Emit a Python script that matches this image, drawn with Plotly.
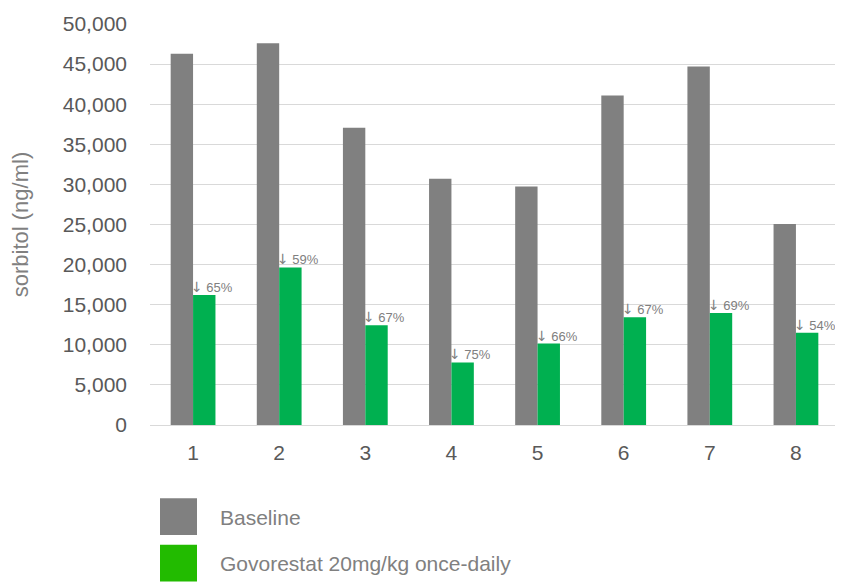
import plotly.graph_objects as go

categories = ["1", "2", "3", "4", "5", "6", "7", "8"]
baseline = [46300, 47600, 37050, 30700, 29750, 41100, 44700, 25050]
govorestat = [16200, 19650, 12450, 7800, 10150, 13450, 13950, 11500]
reduction_labels = ["↓ 65%", "↓ 59%", "↓ 67%", "↓ 75%", "↓ 66%", "↓ 67%", "↓ 69%", "↓ 54%"]
series_names = ["Baseline", "Govorestat 20mg/kg once-daily"]
legend_colors = ["#808080", "#22BB00"]
y_ticks = [0, 5000, 10000, 15000, 20000, 25000, 30000, 35000, 40000, 45000, 50000]

FONT = "Arial, Liberation Sans, sans-serif"
OFF = 8  # default page body margin
W, H = 843 - OFF, 582 - OFF
ML, MR, MT, MB = 150 - OFF, 4, 20 - OFF, 157
PW, PH = W - ML - MR, H - MT - MB

fig = go.Figure()
fig.add_trace(go.Bar(x=categories, y=baseline, name=series_names[0],
                     marker=dict(color="#808080", line=dict(width=0)), showlegend=False))
fig.add_trace(go.Bar(x=categories, y=govorestat, name=series_names[1],
                     marker=dict(color="#00B050", line=dict(width=0)), showlegend=False))

for i, (v, t) in enumerate(zip(govorestat, reduction_labels)):
    styled = t.replace("↓", "<span style='font-family:DejaVu Sans;font-size:14px'>↓</span>")
    fig.add_annotation(x=i, y=v, text=styled, showarrow=False, xanchor="left", yanchor="bottom",
                       xshift=-4, yshift=-2, font=dict(family=FONT, size=13, color="#808080"))

# manual legend (page pixel positions converted to paper coordinates)
def px_to_paper_x(px):
    return (px - OFF - ML) / PW

def px_to_paper_y(py):
    return (H - MB - (py - OFF)) / PH

legend_tops = [499, 546]
for name, col, top in zip(series_names, legend_colors, legend_tops):
    fig.add_shape(type="rect", xref="paper", yref="paper",
                  x0=px_to_paper_x(160), x1=px_to_paper_x(197),
                  y0=px_to_paper_y(top), y1=px_to_paper_y(top + 37),
                  fillcolor=col, line=dict(width=0))
    fig.add_annotation(xref="paper", yref="paper", x=px_to_paper_x(218),
                       y=px_to_paper_y(top + 19), text=name, showarrow=False,
                       xanchor="left", yanchor="middle",
                       font=dict(family=FONT, size=21, color="#808080"))

fig.update_layout(
    width=W, height=H,
    margin=dict(l=ML, r=MR, t=MT, b=MB),
    paper_bgcolor="white", plot_bgcolor="white",
    barmode="group", bargap=0.48, bargroupgap=0,
    showlegend=False,
    font=dict(family=FONT, color="#595959"),
)
fig.update_xaxes(type="category", showgrid=False, showline=True, linecolor="#d9d9d9",
                 linewidth=1, ticks="", tickfont=dict(family=FONT, size=21, color="#595959"),
                 ticklabelstandoff=9)
fig.update_yaxes(range=[0, 50000], tickvals=y_ticks, tickformat=",", showgrid=True,
                 gridcolor="#d9d9d9", gridwidth=1, zeroline=False, showline=False, ticks="",
                 tickfont=dict(family=FONT, size=21, color="#595959"), ticklabelstandoff=22,
                 title=dict(text="sorbitol (ng/ml)", standoff=28,
                            font=dict(family=FONT, size=22, color="#808080")))

fig.write_html("out.html")
